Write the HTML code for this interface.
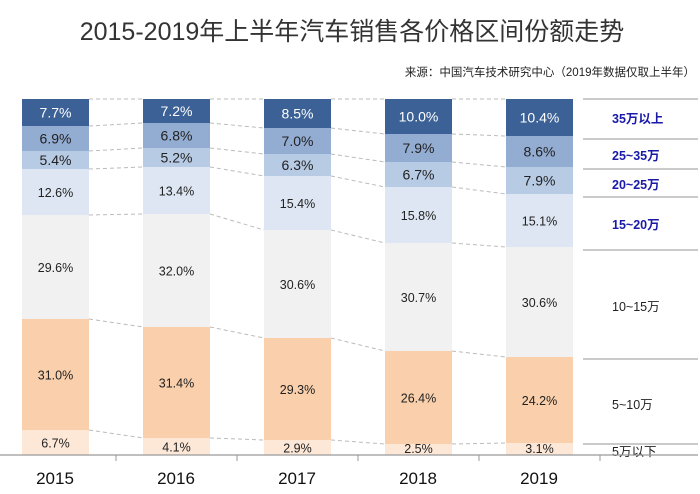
<!DOCTYPE html>
<html><head><meta charset="utf-8"><style>
body{margin:0;background:#fff}
svg text{font-family:"Liberation Sans","Noto Sans CJK SC",sans-serif}
</style></head><body>
<svg width="700" height="489" viewBox="0 0 700 489" xmlns="http://www.w3.org/2000/svg">
<text x="352" y="40" font-size="25" fill="#333" text-anchor="middle">2015-2019年上半年汽车销售各价格区间份额走势</text>
<text x="695" y="76" font-size="11.5" fill="#222" text-anchor="end">来源：中国汽车技术研究中心（2019年数据仅取上半年）</text>
<g id="bars"></g>
<g stroke="#aaa" stroke-width="1.2">
<line x1="583" y1="99" x2="698" y2="99"/><line x1="583" y1="139" x2="698" y2="139"/>
<line x1="583" y1="169" x2="698" y2="169"/><line x1="583" y1="197" x2="698" y2="197"/>
<line x1="583" y1="250" x2="698" y2="250"/><line x1="583" y1="359" x2="698" y2="359"/>
<line x1="583" y1="444" x2="698" y2="444"/>
</g>
<g font-size="12.5" font-weight="bold" fill="#1a1aa8">
<text x="612" y="123">35万以上</text><text x="612" y="160">25~35万</text>
<text x="612" y="189">20~25万</text><text x="612" y="229">15~20万</text>
</g>
<g font-size="12.5" fill="#222">
<text x="612" y="311">10~15万</text><text x="612" y="409">5~10万</text><text x="612" y="456">5万以下</text>
</g>
<line x1="0" y1="455" x2="698" y2="455" stroke="#999" stroke-width="1.2"/>
<g stroke="#999"><line x1="116" y1="455" x2="116" y2="461"/><line x1="237" y1="455" x2="237" y2="461"/><line x1="358" y1="455" x2="358" y2="461"/><line x1="479" y1="455" x2="479" y2="461"/><line x1="600" y1="455" x2="600" y2="461"/></g>
<g font-size="17" fill="#111" text-anchor="middle">
<text x="55" y="484">2015</text><text x="176" y="484">2016</text><text x="297" y="484">2017</text><text x="418" y="484">2018</text><text x="539" y="484">2019</text>
</g>
</svg>
<script>
var xs=[22,143,264,385,506],w=67;
var B=[[99,126,151,169,215,319,430,455],[99,123,148,167,214,327,438,455],[99,128,154,176,230,338,440,455],[99,134,162,187,243,351,444,455],[99,136,167,194,247,357,443,455]];
var V=[["7.7%","6.9%","5.4%","12.6%","29.6%","31.0%","6.7%"],["7.2%","6.8%","5.2%","13.4%","32.0%","31.4%","4.1%"],["8.5%","7.0%","6.3%","15.4%","30.6%","29.3%","2.9%"],["10.0%","7.9%","6.7%","15.8%","30.7%","26.4%","2.5%"],["10.4%","8.6%","7.9%","15.1%","30.6%","24.2%","3.1%"]];
var C=["#3b6196","#93acd2","#b8cbe5","#dde6f2","#f1f1f1","#f9cfac","#fde8d8"];
var s='';
for(var i=0;i<5;i++){for(var j=0;j<7;j++){var a=B[i][j],b=B[i][j+1];
s+='<rect x="'+xs[i]+'" y="'+a+'" width="'+w+'" height="'+(b-a)+'" fill="'+C[j]+'"/>';
var ty=(a+b)/2+5;if(j==6)ty=Math.min(ty,453);
s+='<text x="'+(xs[i]+w/2)+'" y="'+ty+'" font-size="'+(j<3?14:12.5)+'" text-anchor="middle" fill="'+(j==0?'#fff':'#222')+'">'+V[i][j]+'</text>';}
if(i<4){for(var j=0;j<7;j++){s+='<line x1="'+(xs[i]+w)+'" y1="'+B[i][j]+'" x2="'+xs[i+1]+'" y2="'+B[i+1][j]+'" stroke="#bbb" stroke-dasharray="4,3"/>';}}
else{}}
document.getElementById('bars').innerHTML=s;
</script>
</body></html>
